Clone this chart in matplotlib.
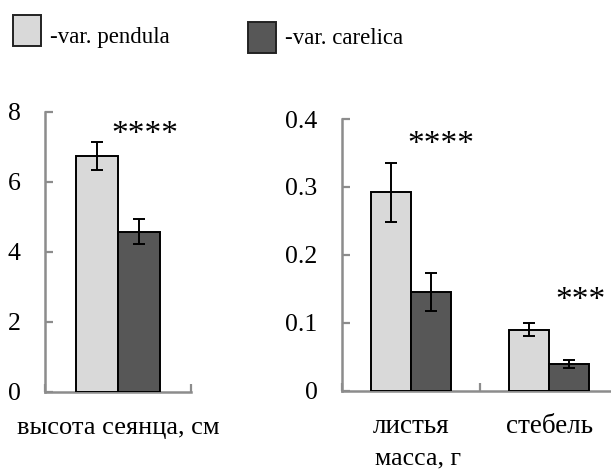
import numpy as np
import matplotlib.pyplot as plt
from matplotlib.patches import Rectangle

# data
series = ['-var. pendula', '-var. carelica']
colors = ['#d9d9d9', '#575757']

left_cats = ['высота сеянца, см']
left_vals = [[6.74], [4.58]]
left_errs = [[0.40], [0.35]]
left_stars = ['****']

right_cats = ['листья', 'стебель']
right_vals = [[0.292, 0.090], [0.146, 0.039]]
right_errs = [[0.043, 0.010], [0.028, 0.006]]
right_stars = ['****', '***']

plt.rcParams['font.family'] = ['Liberation Serif', 'DejaVu Serif']
axis_gray = '#8c8c8c'

fig = plt.figure(figsize=(6.11, 4.70), dpi=100)
W, H = 611, 470


def px_axes(x0, y0, x1, y1):
    return fig.add_axes([x0 / W, 1 - y1 / H, (x1 - x0) / W, (y1 - y0) / H])


def draw_panel(ax, cats, vals, errs, ymax, yticks, ylabels):
    n = len(cats)
    x = np.arange(n) + 0.5
    bw = 0.29
    for i in range(2):
        ax.bar(x + (i - 0.5) * bw, vals[i], bw, color=colors[i],
               edgecolor='black', linewidth=1.4, yerr=errs[i],
               error_kw=dict(ecolor='black', elinewidth=1.4, capsize=4.5, capthick=1.4),
               zorder=3)
    ax.set_xlim(0, n)
    ax.set_ylim(0, ymax)
    ax.set_yticks(yticks)
    ax.set_yticklabels(ylabels, fontsize=18.5)
    ax.set_xticks(np.arange(n + 1))
    ax.set_xticklabels([])
    ax.tick_params(axis='both', direction='in', length=6, width=1.6, color=axis_gray)
    ax.tick_params(axis='y', pad=17.5)
    for s in ['top', 'right']:
        ax.spines[s].set_visible(False)
    for s in ['left', 'bottom']:
        ax.spines[s].set_color(axis_gray)
        ax.spines[s].set_linewidth(1.8)
    return x


# left panel
axl = px_axes(45, 112, 191, 392)
xl = draw_panel(axl, left_cats, left_vals, left_errs, 8, [0, 2, 4, 6, 8],
                ['0', '2', '4', '6', '8'])
axl.text(0.685, 7.35, left_stars[0], ha='center', va='center', fontsize=24)
axl.text(xl[0], -1.03, left_cats[0], ha='center', va='center', fontsize=19)

# right panel (axis runs off the right edge like in the original)
axr = px_axes(341.7, 119, 618.3, 390.7)
xr = draw_panel(axr, right_cats, right_vals, right_errs, 0.4, [0, 0.1, 0.2, 0.3, 0.4],
                ['0', '0.1', '0.2', '0.3', '0.4'])
axr.text(0.718, 0.362, right_stars[0], ha='center', va='center', fontsize=24)
axr.text(1.724, 0.132, right_stars[1], ha='center', va='center', fontsize=24)
for xi, c in zip(xr, right_cats):
    axr.text(xi, -0.053, c, ha='center', va='center', fontsize=19.5)
fig.text(418 / W, 1 - 458 / H, 'масса, г', ha='center', va='center', fontsize=18.5)

# legend drawn by hand at the top
leg_boxes = [(13, 15), (248, 22)]
for (bx, by), col, name in zip(leg_boxes, colors, series):
    fig.patches.append(Rectangle((bx / W, 1 - (by + 31) / H), 28 / W, 31 / H,
                                 transform=fig.transFigure, facecolor=col,
                                 edgecolor='#222222', linewidth=1.4))
    fig.text((bx + 37) / W, 1 - 38 / H, name, ha='left', va='center', fontsize=16.5)

fig.savefig('out.png', dpi=100)
